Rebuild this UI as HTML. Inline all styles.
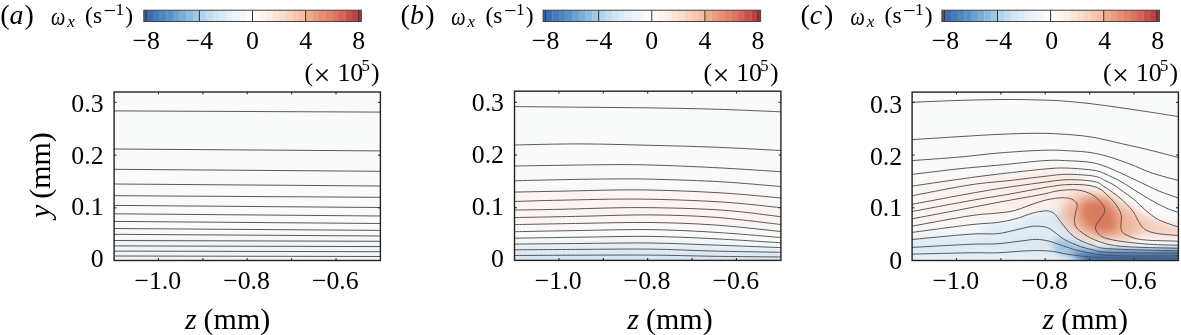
<!DOCTYPE html>
<html><head><meta charset="utf-8"><style>
html,body{margin:0;padding:0;background:#fff;width:1181px;height:335px;overflow:hidden}
svg{display:block;will-change:transform}
text{font-family:"Liberation Serif", serif;fill:#000}
</style></head><body>
<svg width="1181" height="335" viewBox="0 0 1181 335">
<defs>
<clipPath id="ca"><rect x="114.1" y="92.0" width="266.30" height="168.50"/></clipPath><clipPath id="cb"><rect x="514.5" y="91.2" width="266.40" height="169.20"/></clipPath><clipPath id="cc"><rect x="912.1" y="92.1" width="266.30" height="168.40"/></clipPath>
<linearGradient id="pinkc" x1="0" y1="0" x2="1" y2="0"><stop offset="0" stop-color="#fbf6f4"/><stop offset="0.55" stop-color="#fbefe9"/><stop offset="1" stop-color="#fae9e0"/></linearGradient>
<filter id="b5" x="-50%" y="-50%" width="200%" height="200%"><feGaussianBlur stdDeviation="5"/></filter>
<filter id="b3" x="-50%" y="-50%" width="200%" height="200%"><feGaussianBlur stdDeviation="3"/></filter>
<filter id="b4" x="-50%" y="-50%" width="200%" height="200%"><feGaussianBlur stdDeviation="4"/></filter>
<filter id="b6" x="-50%" y="-50%" width="200%" height="200%"><feGaussianBlur stdDeviation="6"/></filter>
</defs>
<g clip-path="url(#ca)"><rect x="114.1" y="92.0" width="266.30" height="168.50" fill="#f9fbfa"/>
<rect x="110" y="238" width="275" height="30" fill="#f2f5f8" filter="url(#b4)"/>
</g>
<g clip-path="url(#cb)"><rect x="514.5" y="91.2" width="266.40" height="169.20" fill="#f9fbfa"/>
<path d="M505,192 C560,186 640,185 720,190 C760,194 790,200 790,205 L790,238 C760,232 720,226 650,225 C600,225 540,227 505,228 Z" fill="#fcf4f0" filter="url(#b5)"/>
<path d="M505,244 C560,241 650,240 720,243 C760,246 790,248 790,249 L790,265 L505,265 Z" fill="#e4eef7" filter="url(#b4)"/>
<path d="M505,251 C560,249 650,249 720,252 L790,254 L790,265 L505,265 Z" fill="#d9e7f3" filter="url(#b3)"/>
</g>
<g clip-path="url(#cc)"><rect x="912.1" y="92.1" width="266.30" height="168.40" fill="#f9fbfa"/>
<path d="M905.0,186.0C914.2,178.0 944.2,182.0 960.0,180.0C975.8,178.0 986.7,175.8 1000.0,174.0C1013.3,172.2 1028.3,169.7 1040.0,169.0C1051.7,168.3 1062.5,168.5 1070.0,170.0C1077.5,171.5 1083.3,173.3 1085.0,178.0C1086.7,182.7 1084.2,193.5 1080.0,198.0C1075.8,202.5 1068.3,202.7 1060.0,205.0C1051.7,207.3 1040.0,210.0 1030.0,212.0C1020.0,214.0 1011.7,215.3 1000.0,217.0C988.3,218.7 975.8,220.2 960.0,222.0C944.2,223.8 914.2,234.0 905.0,228.0C895.8,222.0 895.8,194.0 905.0,186.0Z" fill="url(#pinkc)" filter="url(#b6)"/>
<path d="M905.0,238.0C914.2,233.3 944.2,235.0 960.0,234.0C975.8,233.0 988.3,233.5 1000.0,232.0C1011.7,230.5 1021.7,226.5 1030.0,225.0C1038.3,223.5 1044.2,221.5 1050.0,223.0C1055.8,224.5 1060.0,229.5 1065.0,234.0C1070.0,238.5 1079.2,245.3 1080.0,250.0C1080.8,254.7 1099.2,260.0 1070.0,262.0C1040.8,264.0 932.5,266.0 905.0,262.0C877.5,258.0 895.8,242.7 905.0,238.0Z" fill="#e5eef6" filter="url(#b5)"/>
<path d="M905.0,244.0C914.2,242.3 944.2,241.8 960.0,241.0C975.8,240.2 988.3,240.2 1000.0,239.0C1011.7,237.8 1021.7,234.8 1030.0,234.0C1038.3,233.2 1043.7,232.5 1050.0,234.0C1056.3,235.5 1062.2,240.0 1068.0,243.0C1073.8,246.0 1086.3,250.2 1085.0,252.0C1083.7,253.8 1074.2,254.3 1060.0,254.0C1045.8,253.7 1025.8,250.5 1000.0,250.0C974.2,249.5 920.8,252.0 905.0,251.0C889.2,250.0 895.8,245.7 905.0,244.0Z" fill="#dae8f3" filter="url(#b4)"/>
<path d="M985.0,226.0C990.0,223.8 1006.2,224.0 1015.0,222.0C1023.8,220.0 1031.3,215.8 1038.0,214.0C1044.7,212.2 1050.5,211.0 1055.0,211.0C1059.5,211.0 1062.5,212.2 1065.0,214.0C1067.5,215.8 1068.3,219.3 1070.0,222.0C1071.7,224.7 1072.7,227.5 1075.0,230.0C1077.3,232.5 1080.8,234.8 1084.0,237.0C1087.2,239.2 1094.7,241.3 1094.0,243.0C1093.3,244.7 1084.8,247.3 1080.0,247.0C1075.2,246.7 1069.0,243.0 1065.0,241.0C1061.0,239.0 1059.0,236.8 1056.0,235.0C1053.0,233.2 1050.3,231.0 1047.0,230.0C1043.7,229.0 1041.3,228.5 1036.0,229.0C1030.7,229.5 1023.5,232.0 1015.0,233.0C1006.5,234.0 990.0,236.2 985.0,235.0C980.0,233.8 980.0,228.2 985.0,226.0Z" fill="#dce9f4" filter="url(#b4)"/>
<path d="M1056.0,239.0C1058.0,237.3 1062.7,239.3 1066.0,240.0C1069.3,240.7 1072.3,241.9 1076.0,243.0C1079.7,244.1 1082.3,245.7 1088.0,246.5C1093.7,247.3 1099.7,247.6 1110.0,248.0C1120.3,248.4 1136.7,248.6 1150.0,248.8C1163.3,249.0 1183.3,246.5 1190.0,249.0C1196.7,251.5 1206.3,261.5 1190.0,264.0C1173.7,266.5 1111.3,264.8 1092.0,264.0C1072.7,263.2 1079.0,260.5 1074.0,259.0C1069.0,257.5 1065.3,256.5 1062.0,255.0C1058.7,253.5 1055.0,252.7 1054.0,250.0C1053.0,247.3 1054.0,240.7 1056.0,239.0Z" fill="#9fc3e2" filter="url(#b3)"/>
<path d="M1072.0,253.5C1073.0,252.4 1081.7,252.8 1088.0,252.5C1094.3,252.2 1099.7,251.7 1110.0,251.5C1120.3,251.3 1136.7,251.5 1150.0,251.5C1163.3,251.5 1183.3,249.4 1190.0,251.5C1196.7,253.6 1205.3,261.9 1190.0,264.0C1174.7,266.1 1116.0,264.8 1098.0,264.0C1080.0,263.2 1086.3,260.8 1082.0,259.0C1077.7,257.2 1071.0,254.6 1072.0,253.5Z" fill="#3a6fb5" filter="url(#b3)"/>
<path d="M1120.0,208.0C1124.2,205.8 1133.3,209.7 1140.0,212.0C1146.7,214.3 1151.7,219.3 1160.0,222.0C1168.3,224.7 1185.0,225.7 1190.0,228.0C1195.0,230.3 1196.7,234.8 1190.0,236.0C1183.3,237.2 1160.8,235.5 1150.0,235.0C1139.2,234.5 1130.8,234.7 1125.0,233.0C1119.2,231.3 1115.8,229.2 1115.0,225.0C1114.2,220.8 1115.8,210.2 1120.0,208.0Z" fill="#f5ccb8" filter="url(#b5)"/>
<path d="M1072.0,198.0C1075.7,196.3 1081.3,193.5 1087.0,193.0C1092.7,192.5 1099.8,192.7 1106.0,195.0C1112.2,197.3 1119.2,202.5 1124.0,207.0C1128.8,211.5 1133.0,217.2 1135.0,222.0C1137.0,226.8 1139.3,233.2 1136.0,236.0C1132.7,238.8 1122.3,238.7 1115.0,239.0C1107.7,239.3 1098.7,239.2 1092.0,238.0C1085.3,236.8 1079.7,234.7 1075.0,232.0C1070.3,229.3 1066.3,225.5 1064.0,222.0C1061.7,218.5 1060.8,214.2 1061.0,211.0C1061.2,207.8 1063.2,205.2 1065.0,203.0C1066.8,200.8 1068.3,199.7 1072.0,198.0Z" fill="#efb398" filter="url(#b6)"/>
<path d="M1083.0,203.0C1085.3,201.2 1090.2,199.2 1094.0,199.0C1097.8,198.8 1102.5,199.8 1106.0,202.0C1109.5,204.2 1113.0,208.3 1115.0,212.0C1117.0,215.7 1118.3,220.7 1118.0,224.0C1117.7,227.3 1115.8,230.5 1113.0,232.0C1110.2,233.5 1105.0,233.7 1101.0,233.0C1097.0,232.3 1092.2,230.3 1089.0,228.0C1085.8,225.7 1083.5,222.0 1082.0,219.0C1080.5,216.0 1079.8,212.7 1080.0,210.0C1080.2,207.3 1080.7,204.8 1083.0,203.0Z" fill="#d97a5b" filter="url(#b5)"/>
</g>
<path d="M114.10,110.90L380.40,112.10 M114.10,149.00L380.40,150.90 M114.10,169.30L380.40,171.30 M114.10,184.00L380.40,186.00 M114.10,195.70L380.40,197.30 M114.10,205.40L380.40,207.50 M114.10,213.80L380.40,216.00 M114.10,221.40L380.40,223.50 M114.10,228.50L380.40,230.40 M114.10,234.30L380.40,236.00 M114.10,240.50L380.40,241.30 M114.10,245.90L380.40,246.60 M114.10,251.10L380.40,251.70 M114.10,256.00L380.40,256.50" fill="none" stroke="#505050" stroke-width="0.95" stroke-linejoin="round"/>
<path d="M514.50,106.60C525.42,106.70 557.42,106.98 580.00,107.20C602.58,107.42 627.50,107.57 650.00,107.90C672.50,108.23 693.18,108.55 715.00,109.20C736.82,109.85 769.92,111.37 780.90,111.80 M514.50,145.00C525.42,144.82 557.42,143.85 580.00,143.90C602.58,143.95 627.50,144.75 650.00,145.30C672.50,145.85 693.18,146.33 715.00,147.20C736.82,148.07 769.92,149.95 780.90,150.50 M514.50,166.00C522.08,165.88 542.42,165.53 560.00,165.30C577.58,165.07 603.33,164.60 620.00,164.60C636.67,164.60 643.33,164.75 660.00,165.30C676.67,165.85 699.85,166.83 720.00,167.90C740.15,168.97 770.75,171.07 780.90,171.70 M514.50,180.80C522.08,180.62 542.42,180.02 560.00,179.70C577.58,179.38 603.33,178.95 620.00,178.90C636.67,178.85 643.33,178.93 660.00,179.40C676.67,179.87 699.85,180.52 720.00,181.70C740.15,182.88 770.75,185.70 780.90,186.50 M514.50,192.10C522.08,191.95 539.08,191.57 560.00,191.20C580.92,190.83 613.33,189.63 640.00,189.90C666.67,190.17 696.52,191.45 720.00,192.80C743.48,194.15 770.75,197.13 780.90,198.00 M514.50,201.50C522.08,201.28 539.08,200.60 560.00,200.20C580.92,199.80 613.33,198.82 640.00,199.10C666.67,199.38 696.52,200.47 720.00,201.90C743.48,203.33 770.75,206.73 780.90,207.70 M514.50,210.10C522.08,209.97 539.08,209.72 560.00,209.30C580.92,208.88 613.33,207.48 640.00,207.60C666.67,207.72 696.52,208.48 720.00,210.00C743.48,211.52 770.75,215.58 780.90,216.70 M514.50,217.60C525.42,217.38 557.42,216.75 580.00,216.30C602.58,215.85 627.50,214.73 650.00,214.90C672.50,215.07 693.18,215.70 715.00,217.30C736.82,218.90 769.92,223.30 780.90,224.50 M514.50,224.60C525.42,224.40 557.42,223.75 580.00,223.40C602.58,223.05 627.50,222.23 650.00,222.50C672.50,222.77 693.18,223.50 715.00,225.00C736.82,226.50 769.92,230.42 780.90,231.50 M514.50,231.70C525.42,231.50 557.42,230.85 580.00,230.50C602.58,230.15 627.50,229.30 650.00,229.60C672.50,229.90 693.18,230.98 715.00,232.30C736.82,233.62 769.92,236.63 780.90,237.50 M514.50,238.20C525.42,238.03 557.42,237.50 580.00,237.20C602.58,236.90 627.50,236.13 650.00,236.40C672.50,236.67 693.18,237.73 715.00,238.80C736.82,239.87 769.92,242.13 780.90,242.80 M514.50,244.10C525.42,244.00 557.42,243.68 580.00,243.50C602.58,243.32 627.50,242.73 650.00,243.00C672.50,243.27 693.18,244.33 715.00,245.10C736.82,245.87 769.92,247.18 780.90,247.60 M514.50,249.80C525.42,249.73 557.42,249.52 580.00,249.40C602.58,249.28 627.50,248.82 650.00,249.10C672.50,249.38 693.18,250.57 715.00,251.10C736.82,251.63 769.92,252.10 780.90,252.30 M514.50,255.50C525.42,255.45 557.42,255.27 580.00,255.20C602.58,255.13 627.50,254.92 650.00,255.10C672.50,255.28 693.18,255.98 715.00,256.30C736.82,256.62 769.92,256.88 780.90,257.00" fill="none" stroke="#505050" stroke-width="0.95" stroke-linejoin="round"/>
<path d="M912.10,102.30C920.08,101.98 944.52,100.87 960.00,100.40C975.48,99.93 992.50,99.58 1005.00,99.50C1017.50,99.42 1025.83,99.68 1035.00,99.90C1044.17,100.12 1050.83,100.18 1060.00,100.80C1069.17,101.42 1079.83,102.43 1090.00,103.60C1100.17,104.77 1110.67,106.33 1121.00,107.80C1131.33,109.27 1142.43,110.93 1152.00,112.40C1161.57,113.87 1174.00,115.90 1178.40,116.60 M912.10,139.60C920.08,139.10 945.35,137.48 960.00,136.60C974.65,135.72 987.50,134.85 1000.00,134.30C1012.50,133.75 1025.00,133.35 1035.00,133.30C1045.00,133.25 1050.72,133.40 1060.00,134.00C1069.28,134.60 1080.45,135.30 1090.70,136.90C1100.95,138.50 1111.25,141.30 1121.50,143.60C1131.75,145.90 1142.72,148.37 1152.20,150.70C1161.68,153.03 1174.03,156.45 1178.40,157.60 M912.10,160.60C920.08,160.00 945.35,158.28 960.00,157.00C974.65,155.72 985.83,154.03 1000.00,152.90C1014.17,151.77 1033.00,150.52 1045.00,150.20C1057.00,149.88 1064.50,150.62 1072.00,151.00C1079.50,151.38 1084.00,151.58 1090.00,152.50C1096.00,153.42 1101.33,154.57 1108.00,156.50C1114.67,158.43 1122.67,161.35 1130.00,164.10C1137.33,166.85 1143.93,170.27 1152.00,173.00C1160.07,175.73 1174.00,179.25 1178.40,180.50 M912.10,174.40C920.08,173.45 945.35,170.27 960.00,168.70C974.65,167.13 985.83,166.35 1000.00,165.00C1014.17,163.65 1033.83,161.32 1045.00,160.60C1056.17,159.88 1059.50,160.42 1067.00,160.70C1074.50,160.98 1083.67,161.37 1090.00,162.30C1096.33,163.23 1099.17,164.18 1105.00,166.30C1110.83,168.42 1118.17,171.88 1125.00,175.00C1131.83,178.12 1140.17,182.25 1146.00,185.00C1151.83,187.75 1154.60,189.33 1160.00,191.50C1165.40,193.67 1175.33,196.92 1178.40,198.00 M912.10,186.10C920.08,184.93 945.35,181.13 960.00,179.10C974.65,177.07 985.83,175.58 1000.00,173.90C1014.17,172.22 1033.83,169.97 1045.00,169.00C1056.17,168.03 1058.83,167.88 1067.00,168.10C1075.17,168.32 1087.67,169.33 1094.00,170.30C1100.33,171.27 1100.67,172.12 1105.00,173.90C1109.33,175.68 1115.08,178.32 1120.00,181.00C1124.92,183.68 1129.50,186.92 1134.50,190.00C1139.50,193.08 1144.92,196.58 1150.00,199.50C1155.08,202.42 1160.27,205.33 1165.00,207.50C1169.73,209.67 1176.17,211.67 1178.40,212.50 M912.10,195.70C921.75,193.90 953.68,187.43 970.00,184.90C986.32,182.37 997.50,181.93 1010.00,180.50C1022.50,179.07 1035.50,177.33 1045.00,176.30C1054.50,175.27 1058.83,174.33 1067.00,174.30C1075.17,174.27 1087.67,175.07 1094.00,176.10C1100.33,177.13 1101.67,179.02 1105.00,180.50C1108.33,181.98 1111.33,183.42 1114.00,185.00C1116.67,186.58 1117.67,187.58 1121.00,190.00C1124.33,192.42 1129.95,196.17 1134.00,199.50C1138.05,202.83 1141.18,206.62 1145.30,210.00C1149.42,213.38 1153.18,216.97 1158.70,219.80C1164.22,222.63 1175.12,225.80 1178.40,227.00 M912.10,204.30C921.75,202.50 954.85,196.22 970.00,193.50C985.15,190.78 991.33,189.78 1003.00,188.00C1014.67,186.22 1029.33,184.18 1040.00,182.80C1050.67,181.42 1058.00,179.92 1067.00,179.70C1076.00,179.48 1087.67,180.25 1094.00,181.50C1100.33,182.75 1100.67,184.45 1105.00,187.20C1109.33,189.95 1115.52,194.20 1120.00,198.00C1124.48,201.80 1129.18,206.80 1131.90,210.00C1134.62,213.20 1134.82,214.67 1136.30,217.20C1137.78,219.73 1139.00,222.97 1140.80,225.20C1142.60,227.43 1144.12,229.18 1147.10,230.60C1150.08,232.02 1153.48,232.88 1158.70,233.70C1163.92,234.52 1175.12,235.20 1178.40,235.50 M912.10,211.50C921.75,209.70 953.68,203.62 970.00,200.70C986.32,197.78 997.50,196.20 1010.00,194.00C1022.50,191.80 1035.50,189.07 1045.00,187.50C1054.50,185.93 1059.83,184.97 1067.00,184.60C1074.17,184.23 1082.50,184.57 1088.00,185.30C1093.50,186.03 1096.83,187.38 1100.00,189.00C1103.17,190.62 1104.67,192.83 1107.00,195.00C1109.33,197.17 1111.95,199.50 1114.00,202.00C1116.05,204.50 1118.07,207.67 1119.30,210.00C1120.53,212.33 1121.12,213.77 1121.40,216.00C1121.68,218.23 1121.03,221.12 1121.00,223.40C1120.97,225.68 1120.53,227.90 1121.20,229.70C1121.87,231.50 1122.48,232.72 1125.00,234.20C1127.52,235.68 1132.17,237.58 1136.30,238.60C1140.43,239.62 1142.78,239.87 1149.80,240.30C1156.82,240.73 1173.63,241.05 1178.40,241.20 M912.10,218.80C919.87,217.33 944.05,212.80 958.70,210.00C973.35,207.20 986.45,204.53 1000.00,202.00C1013.55,199.47 1030.33,196.67 1040.00,194.80C1049.67,192.93 1052.00,191.62 1058.00,190.80C1064.00,189.98 1070.83,189.52 1076.00,189.90C1081.17,190.28 1085.33,191.53 1089.00,193.10C1092.67,194.67 1095.57,197.07 1098.00,199.30C1100.43,201.53 1102.52,204.38 1103.60,206.50C1104.68,208.62 1105.10,209.83 1104.50,212.00C1103.90,214.17 1101.50,217.07 1100.00,219.50C1098.50,221.93 1095.95,224.45 1095.50,226.60C1095.05,228.75 1095.80,230.53 1097.30,232.40C1098.80,234.27 1100.23,236.27 1104.50,237.80C1108.77,239.33 1115.35,240.52 1122.90,241.60C1130.45,242.68 1140.55,243.70 1149.80,244.30C1159.05,244.90 1173.63,245.05 1178.40,245.20 M912.10,226.10C921.75,224.38 955.85,217.97 970.00,215.80C984.15,213.63 989.50,214.00 997.00,213.10C1004.50,212.20 1007.83,212.32 1015.00,210.40C1022.17,208.48 1032.83,203.67 1040.00,201.60C1047.17,199.53 1053.08,198.53 1058.00,198.00C1062.92,197.47 1066.53,197.73 1069.50,198.40C1072.47,199.07 1074.52,200.65 1075.80,202.00C1077.08,203.35 1077.25,204.67 1077.20,206.50C1077.15,208.33 1075.95,210.48 1075.50,213.00C1075.05,215.52 1074.30,219.12 1074.50,221.60C1074.70,224.08 1075.28,225.95 1076.70,227.90C1078.12,229.85 1080.17,231.38 1083.00,233.30C1085.83,235.22 1089.20,237.50 1093.70,239.40C1098.20,241.30 1103.63,243.43 1110.00,244.70C1116.37,245.97 1120.50,246.40 1131.90,247.00C1143.30,247.60 1170.65,248.08 1178.40,248.30 M912.10,232.40C921.75,231.13 955.85,226.45 970.00,224.80C984.15,223.15 989.50,223.47 997.00,222.50C1004.50,221.53 1009.05,220.57 1015.00,219.00C1020.95,217.43 1027.70,214.45 1032.70,213.10C1037.70,211.75 1041.95,211.12 1045.00,210.90C1048.05,210.68 1049.30,211.20 1051.00,211.80C1052.70,212.40 1053.60,212.87 1055.20,214.50C1056.80,216.13 1058.65,219.07 1060.60,221.60C1062.55,224.13 1065.00,227.47 1066.90,229.70C1068.80,231.93 1069.82,233.23 1072.00,235.00C1074.18,236.77 1076.38,238.53 1080.00,240.30C1083.62,242.07 1088.70,244.18 1093.70,245.60C1098.70,247.02 1095.88,247.90 1110.00,248.80C1124.12,249.70 1167.00,250.63 1178.40,251.00 M912.10,239.50C921.75,238.62 955.85,235.17 970.00,234.20C984.15,233.23 989.50,234.38 997.00,233.70C1004.50,233.02 1009.80,231.22 1015.00,230.10C1020.20,228.98 1024.67,227.67 1028.20,227.00C1031.73,226.33 1033.03,226.02 1036.20,226.10C1039.37,226.18 1043.88,226.30 1047.20,227.50C1050.52,228.70 1053.12,231.22 1056.10,233.30C1059.08,235.38 1061.07,237.80 1065.10,240.00C1069.13,242.20 1075.53,244.82 1080.30,246.50C1085.07,248.18 1088.75,249.12 1093.70,250.10C1098.65,251.08 1095.88,251.88 1110.00,252.40C1124.12,252.92 1167.00,253.07 1178.40,253.20 M912.10,247.40C921.75,246.88 955.85,244.90 970.00,244.30C984.15,243.70 988.80,244.32 997.00,243.80C1005.20,243.28 1012.67,241.93 1019.20,241.20C1025.73,240.47 1031.23,239.40 1036.20,239.40C1041.17,239.40 1044.63,240.17 1049.00,241.20C1053.37,242.23 1057.18,243.97 1062.40,245.60C1067.62,247.23 1072.37,249.35 1080.30,251.00C1088.23,252.65 1093.65,254.68 1110.00,255.50C1126.35,256.32 1167.00,255.83 1178.40,255.90 M912.10,254.10C921.75,253.88 955.85,253.02 970.00,252.80C984.15,252.58 988.05,253.10 997.00,252.80C1005.95,252.50 1016.53,251.37 1023.70,251.00C1030.87,250.63 1035.05,250.52 1040.00,250.60C1044.95,250.68 1048.92,250.92 1053.40,251.50C1057.88,252.08 1061.67,253.28 1066.90,254.10C1072.13,254.92 1077.62,255.80 1084.80,256.40C1091.98,257.00 1094.40,257.40 1110.00,257.70C1125.60,258.00 1167.00,258.12 1178.40,258.20" fill="none" stroke="#505050" stroke-width="0.95" stroke-linejoin="round"/>
<line x1="158.48" y1="260.5" x2="158.48" y2="258.2" stroke="#222" stroke-width="1.1"/>
<line x1="158.48" y1="92.0" x2="158.48" y2="94.3" stroke="#222" stroke-width="1.1"/>
<line x1="202.87" y1="260.5" x2="202.87" y2="258.2" stroke="#222" stroke-width="1.1"/>
<line x1="202.87" y1="92.0" x2="202.87" y2="94.3" stroke="#222" stroke-width="1.1"/>
<line x1="247.25" y1="260.5" x2="247.25" y2="258.2" stroke="#222" stroke-width="1.1"/>
<line x1="247.25" y1="92.0" x2="247.25" y2="94.3" stroke="#222" stroke-width="1.1"/>
<line x1="291.63" y1="260.5" x2="291.63" y2="258.2" stroke="#222" stroke-width="1.1"/>
<line x1="291.63" y1="92.0" x2="291.63" y2="94.3" stroke="#222" stroke-width="1.1"/>
<line x1="336.02" y1="260.5" x2="336.02" y2="258.2" stroke="#222" stroke-width="1.1"/>
<line x1="336.02" y1="92.0" x2="336.02" y2="94.3" stroke="#222" stroke-width="1.1"/>
<line x1="114.1" y1="207.80" x2="116.39999999999999" y2="207.80" stroke="#222" stroke-width="1.1"/>
<line x1="380.4" y1="207.80" x2="378.09999999999997" y2="207.80" stroke="#222" stroke-width="1.1"/>
<line x1="114.1" y1="155.10" x2="116.39999999999999" y2="155.10" stroke="#222" stroke-width="1.1"/>
<line x1="380.4" y1="155.10" x2="378.09999999999997" y2="155.10" stroke="#222" stroke-width="1.1"/>
<line x1="114.1" y1="102.40" x2="116.39999999999999" y2="102.40" stroke="#222" stroke-width="1.1"/>
<line x1="380.4" y1="102.40" x2="378.09999999999997" y2="102.40" stroke="#222" stroke-width="1.1"/>
<rect x="114.1" y="92.0" width="266.30" height="168.50" fill="none" stroke="#222" stroke-width="1.4"/>
<text x="157.78" y="289.0" font-size="25.8" text-anchor="middle">−1.0</text>
<text x="246.55" y="289.0" font-size="25.8" text-anchor="middle">−0.8</text>
<text x="335.32" y="289.0" font-size="25.8" text-anchor="middle">−0.6</text>
<text x="103.60" y="111.50" font-size="25.8" text-anchor="end">0.3</text>
<text x="103.60" y="163.50" font-size="25.8" text-anchor="end">0.2</text>
<text x="103.60" y="215.30" font-size="25.8" text-anchor="end">0.1</text>
<text x="103.60" y="267.40" font-size="25.8" text-anchor="end">0</text>
<text x="184.90" y="328.5" font-size="30" font-style="italic">z</text>
<text x="203.60" y="328.5" font-size="30">(mm)</text>
<text transform="translate(49.6,218.0) rotate(-90)" font-size="30" font-style="italic">y</text>
<text transform="translate(49.6,198.8) rotate(-90)" font-size="30">(mm)</text>
<line x1="558.90" y1="260.4" x2="558.90" y2="258.09999999999997" stroke="#222" stroke-width="1.1"/>
<line x1="558.90" y1="91.2" x2="558.90" y2="93.5" stroke="#222" stroke-width="1.1"/>
<line x1="603.30" y1="260.4" x2="603.30" y2="258.09999999999997" stroke="#222" stroke-width="1.1"/>
<line x1="603.30" y1="91.2" x2="603.30" y2="93.5" stroke="#222" stroke-width="1.1"/>
<line x1="647.70" y1="260.4" x2="647.70" y2="258.09999999999997" stroke="#222" stroke-width="1.1"/>
<line x1="647.70" y1="91.2" x2="647.70" y2="93.5" stroke="#222" stroke-width="1.1"/>
<line x1="692.10" y1="260.4" x2="692.10" y2="258.09999999999997" stroke="#222" stroke-width="1.1"/>
<line x1="692.10" y1="91.2" x2="692.10" y2="93.5" stroke="#222" stroke-width="1.1"/>
<line x1="736.50" y1="260.4" x2="736.50" y2="258.09999999999997" stroke="#222" stroke-width="1.1"/>
<line x1="736.50" y1="91.2" x2="736.50" y2="93.5" stroke="#222" stroke-width="1.1"/>
<line x1="514.5" y1="207.70" x2="516.8" y2="207.70" stroke="#222" stroke-width="1.1"/>
<line x1="780.9" y1="207.70" x2="778.6" y2="207.70" stroke="#222" stroke-width="1.1"/>
<line x1="514.5" y1="155.00" x2="516.8" y2="155.00" stroke="#222" stroke-width="1.1"/>
<line x1="780.9" y1="155.00" x2="778.6" y2="155.00" stroke="#222" stroke-width="1.1"/>
<line x1="514.5" y1="102.30" x2="516.8" y2="102.30" stroke="#222" stroke-width="1.1"/>
<line x1="780.9" y1="102.30" x2="778.6" y2="102.30" stroke="#222" stroke-width="1.1"/>
<rect x="514.5" y="91.2" width="266.40" height="169.20" fill="none" stroke="#222" stroke-width="1.4"/>
<text x="558.20" y="289.0" font-size="25.8" text-anchor="middle">−1.0</text>
<text x="647.00" y="289.0" font-size="25.8" text-anchor="middle">−0.8</text>
<text x="735.80" y="289.0" font-size="25.8" text-anchor="middle">−0.6</text>
<text x="504.00" y="111.20" font-size="25.8" text-anchor="end">0.3</text>
<text x="504.00" y="163.20" font-size="25.8" text-anchor="end">0.2</text>
<text x="504.00" y="215.00" font-size="25.8" text-anchor="end">0.1</text>
<text x="504.00" y="267.10" font-size="25.8" text-anchor="end">0</text>
<text x="627.30" y="328.5" font-size="30" font-style="italic">z</text>
<text x="646.00" y="328.5" font-size="30">(mm)</text>
<line x1="956.48" y1="260.5" x2="956.48" y2="258.2" stroke="#222" stroke-width="1.1"/>
<line x1="956.48" y1="92.1" x2="956.48" y2="94.39999999999999" stroke="#222" stroke-width="1.1"/>
<line x1="1000.87" y1="260.5" x2="1000.87" y2="258.2" stroke="#222" stroke-width="1.1"/>
<line x1="1000.87" y1="92.1" x2="1000.87" y2="94.39999999999999" stroke="#222" stroke-width="1.1"/>
<line x1="1045.25" y1="260.5" x2="1045.25" y2="258.2" stroke="#222" stroke-width="1.1"/>
<line x1="1045.25" y1="92.1" x2="1045.25" y2="94.39999999999999" stroke="#222" stroke-width="1.1"/>
<line x1="1089.63" y1="260.5" x2="1089.63" y2="258.2" stroke="#222" stroke-width="1.1"/>
<line x1="1089.63" y1="92.1" x2="1089.63" y2="94.39999999999999" stroke="#222" stroke-width="1.1"/>
<line x1="1134.02" y1="260.5" x2="1134.02" y2="258.2" stroke="#222" stroke-width="1.1"/>
<line x1="1134.02" y1="92.1" x2="1134.02" y2="94.39999999999999" stroke="#222" stroke-width="1.1"/>
<line x1="912.1" y1="207.80" x2="914.4" y2="207.80" stroke="#222" stroke-width="1.1"/>
<line x1="1178.4" y1="207.80" x2="1176.1000000000001" y2="207.80" stroke="#222" stroke-width="1.1"/>
<line x1="912.1" y1="155.10" x2="914.4" y2="155.10" stroke="#222" stroke-width="1.1"/>
<line x1="1178.4" y1="155.10" x2="1176.1000000000001" y2="155.10" stroke="#222" stroke-width="1.1"/>
<line x1="912.1" y1="102.40" x2="914.4" y2="102.40" stroke="#222" stroke-width="1.1"/>
<line x1="1178.4" y1="102.40" x2="1176.1000000000001" y2="102.40" stroke="#222" stroke-width="1.1"/>
<rect x="912.1" y="92.1" width="266.30" height="168.40" fill="none" stroke="#222" stroke-width="1.4"/>
<text x="955.78" y="289.0" font-size="25.8" text-anchor="middle">−1.0</text>
<text x="1044.55" y="289.0" font-size="25.8" text-anchor="middle">−0.8</text>
<text x="1133.32" y="289.0" font-size="25.8" text-anchor="middle">−0.6</text>
<text x="902.20" y="112.60" font-size="25.8" text-anchor="end">0.3</text>
<text x="902.20" y="164.60" font-size="25.8" text-anchor="end">0.2</text>
<text x="902.20" y="216.40" font-size="25.8" text-anchor="end">0.1</text>
<text x="902.20" y="268.50" font-size="25.8" text-anchor="end">0</text>
<text x="1042.60" y="328.5" font-size="30" font-style="italic">z</text>
<text x="1061.30" y="328.5" font-size="30">(mm)</text>
<rect x="143.80" y="10.2" width="2.50" height="11.3" fill="#2f62ad"/>
<rect x="146.30" y="10.2" width="6.94" height="11.3" fill="#3a6db5"/>
<rect x="152.94" y="10.2" width="6.94" height="11.3" fill="#4679bb"/>
<rect x="159.58" y="10.2" width="6.94" height="11.3" fill="#4f86c0"/>
<rect x="166.21" y="10.2" width="6.94" height="11.3" fill="#5a91c6"/>
<rect x="172.85" y="10.2" width="6.94" height="11.3" fill="#68a0ce"/>
<rect x="179.49" y="10.2" width="6.94" height="11.3" fill="#79add5"/>
<rect x="186.12" y="10.2" width="6.94" height="11.3" fill="#8dbadc"/>
<rect x="192.76" y="10.2" width="6.94" height="11.3" fill="#a0c8e3"/>
<rect x="199.40" y="10.2" width="6.94" height="11.3" fill="#b4d4ea"/>
<rect x="206.04" y="10.2" width="6.94" height="11.3" fill="#c3dcee"/>
<rect x="212.68" y="10.2" width="6.94" height="11.3" fill="#d0e4f1"/>
<rect x="219.31" y="10.2" width="6.94" height="11.3" fill="#dbeaf4"/>
<rect x="225.95" y="10.2" width="6.94" height="11.3" fill="#e5eff7"/>
<rect x="232.59" y="10.2" width="6.94" height="11.3" fill="#edf3f9"/>
<rect x="239.23" y="10.2" width="6.94" height="11.3" fill="#f3f7fa"/>
<rect x="245.86" y="10.2" width="6.94" height="11.3" fill="#f9fbfc"/>
<rect x="252.50" y="10.2" width="6.94" height="11.3" fill="#fefaf8"/>
<rect x="259.14" y="10.2" width="6.94" height="11.3" fill="#fdf4ef"/>
<rect x="265.78" y="10.2" width="6.94" height="11.3" fill="#fcede5"/>
<rect x="272.41" y="10.2" width="6.94" height="11.3" fill="#fbe5da"/>
<rect x="279.05" y="10.2" width="6.94" height="11.3" fill="#fadccd"/>
<rect x="285.69" y="10.2" width="6.94" height="11.3" fill="#f8d2c0"/>
<rect x="292.33" y="10.2" width="6.94" height="11.3" fill="#f6c8b2"/>
<rect x="298.96" y="10.2" width="6.94" height="11.3" fill="#f4bda4"/>
<rect x="305.60" y="10.2" width="6.94" height="11.3" fill="#f0aa8b"/>
<rect x="312.24" y="10.2" width="6.94" height="11.3" fill="#eb9c7f"/>
<rect x="318.88" y="10.2" width="6.94" height="11.3" fill="#e78e73"/>
<rect x="325.51" y="10.2" width="6.94" height="11.3" fill="#e38268"/>
<rect x="332.15" y="10.2" width="6.94" height="11.3" fill="#dd7461"/>
<rect x="338.79" y="10.2" width="6.94" height="11.3" fill="#d4635a"/>
<rect x="345.43" y="10.2" width="6.94" height="11.3" fill="#c9504c"/>
<rect x="352.06" y="10.2" width="6.94" height="11.3" fill="#bd3f40"/>
<rect x="358.70" y="10.2" width="2.60" height="11.3" fill="#b3333a"/>
<line x1="146.30" y1="10.2" x2="146.30" y2="21.5" stroke="#333" stroke-width="1"/>
<line x1="199.40" y1="10.2" x2="199.40" y2="21.5" stroke="#333" stroke-width="1"/>
<line x1="252.50" y1="10.2" x2="252.50" y2="21.5" stroke="#333" stroke-width="1"/>
<line x1="305.60" y1="10.2" x2="305.60" y2="21.5" stroke="#333" stroke-width="1"/>
<line x1="358.70" y1="10.2" x2="358.70" y2="21.5" stroke="#333" stroke-width="1"/>
<rect x="143.80" y="10.2" width="217.50" height="11.3" fill="none" stroke="#444" stroke-width="1"/>
<text x="146.30" y="49" font-size="25.8" text-anchor="middle">−8</text>
<text x="199.40" y="49" font-size="25.8" text-anchor="middle">−4</text>
<text x="252.50" y="49" font-size="25.8" text-anchor="middle">0</text>
<text x="305.60" y="49" font-size="25.8" text-anchor="middle">4</text>
<text x="358.70" y="49" font-size="25.8" text-anchor="middle">8</text>
<rect x="543.10" y="10.2" width="2.50" height="11.3" fill="#2f62ad"/>
<rect x="545.60" y="10.2" width="6.94" height="11.3" fill="#3a6db5"/>
<rect x="552.24" y="10.2" width="6.94" height="11.3" fill="#4679bb"/>
<rect x="558.88" y="10.2" width="6.94" height="11.3" fill="#4f86c0"/>
<rect x="565.51" y="10.2" width="6.94" height="11.3" fill="#5a91c6"/>
<rect x="572.15" y="10.2" width="6.94" height="11.3" fill="#68a0ce"/>
<rect x="578.79" y="10.2" width="6.94" height="11.3" fill="#79add5"/>
<rect x="585.43" y="10.2" width="6.94" height="11.3" fill="#8dbadc"/>
<rect x="592.06" y="10.2" width="6.94" height="11.3" fill="#a0c8e3"/>
<rect x="598.70" y="10.2" width="6.94" height="11.3" fill="#b4d4ea"/>
<rect x="605.34" y="10.2" width="6.94" height="11.3" fill="#c3dcee"/>
<rect x="611.98" y="10.2" width="6.94" height="11.3" fill="#d0e4f1"/>
<rect x="618.61" y="10.2" width="6.94" height="11.3" fill="#dbeaf4"/>
<rect x="625.25" y="10.2" width="6.94" height="11.3" fill="#e5eff7"/>
<rect x="631.89" y="10.2" width="6.94" height="11.3" fill="#edf3f9"/>
<rect x="638.52" y="10.2" width="6.94" height="11.3" fill="#f3f7fa"/>
<rect x="645.16" y="10.2" width="6.94" height="11.3" fill="#f9fbfc"/>
<rect x="651.80" y="10.2" width="6.94" height="11.3" fill="#fefaf8"/>
<rect x="658.44" y="10.2" width="6.94" height="11.3" fill="#fdf4ef"/>
<rect x="665.08" y="10.2" width="6.94" height="11.3" fill="#fcede5"/>
<rect x="671.71" y="10.2" width="6.94" height="11.3" fill="#fbe5da"/>
<rect x="678.35" y="10.2" width="6.94" height="11.3" fill="#fadccd"/>
<rect x="684.99" y="10.2" width="6.94" height="11.3" fill="#f8d2c0"/>
<rect x="691.62" y="10.2" width="6.94" height="11.3" fill="#f6c8b2"/>
<rect x="698.26" y="10.2" width="6.94" height="11.3" fill="#f4bda4"/>
<rect x="704.90" y="10.2" width="6.94" height="11.3" fill="#f0aa8b"/>
<rect x="711.54" y="10.2" width="6.94" height="11.3" fill="#eb9c7f"/>
<rect x="718.18" y="10.2" width="6.94" height="11.3" fill="#e78e73"/>
<rect x="724.81" y="10.2" width="6.94" height="11.3" fill="#e38268"/>
<rect x="731.45" y="10.2" width="6.94" height="11.3" fill="#dd7461"/>
<rect x="738.09" y="10.2" width="6.94" height="11.3" fill="#d4635a"/>
<rect x="744.73" y="10.2" width="6.94" height="11.3" fill="#c9504c"/>
<rect x="751.36" y="10.2" width="6.94" height="11.3" fill="#bd3f40"/>
<rect x="758.00" y="10.2" width="2.60" height="11.3" fill="#b3333a"/>
<line x1="545.60" y1="10.2" x2="545.60" y2="21.5" stroke="#333" stroke-width="1"/>
<line x1="598.70" y1="10.2" x2="598.70" y2="21.5" stroke="#333" stroke-width="1"/>
<line x1="651.80" y1="10.2" x2="651.80" y2="21.5" stroke="#333" stroke-width="1"/>
<line x1="704.90" y1="10.2" x2="704.90" y2="21.5" stroke="#333" stroke-width="1"/>
<line x1="758.00" y1="10.2" x2="758.00" y2="21.5" stroke="#333" stroke-width="1"/>
<rect x="543.10" y="10.2" width="217.50" height="11.3" fill="none" stroke="#444" stroke-width="1"/>
<text x="545.60" y="49" font-size="25.8" text-anchor="middle">−8</text>
<text x="598.70" y="49" font-size="25.8" text-anchor="middle">−4</text>
<text x="651.80" y="49" font-size="25.8" text-anchor="middle">0</text>
<text x="704.90" y="49" font-size="25.8" text-anchor="middle">4</text>
<text x="758.00" y="49" font-size="25.8" text-anchor="middle">8</text>
<rect x="941.90" y="10.2" width="2.50" height="11.3" fill="#2f62ad"/>
<rect x="944.40" y="10.2" width="6.94" height="11.3" fill="#3a6db5"/>
<rect x="951.04" y="10.2" width="6.94" height="11.3" fill="#4679bb"/>
<rect x="957.68" y="10.2" width="6.94" height="11.3" fill="#4f86c0"/>
<rect x="964.31" y="10.2" width="6.94" height="11.3" fill="#5a91c6"/>
<rect x="970.95" y="10.2" width="6.94" height="11.3" fill="#68a0ce"/>
<rect x="977.59" y="10.2" width="6.94" height="11.3" fill="#79add5"/>
<rect x="984.23" y="10.2" width="6.94" height="11.3" fill="#8dbadc"/>
<rect x="990.86" y="10.2" width="6.94" height="11.3" fill="#a0c8e3"/>
<rect x="997.50" y="10.2" width="6.94" height="11.3" fill="#b4d4ea"/>
<rect x="1004.14" y="10.2" width="6.94" height="11.3" fill="#c3dcee"/>
<rect x="1010.78" y="10.2" width="6.94" height="11.3" fill="#d0e4f1"/>
<rect x="1017.41" y="10.2" width="6.94" height="11.3" fill="#dbeaf4"/>
<rect x="1024.05" y="10.2" width="6.94" height="11.3" fill="#e5eff7"/>
<rect x="1030.69" y="10.2" width="6.94" height="11.3" fill="#edf3f9"/>
<rect x="1037.33" y="10.2" width="6.94" height="11.3" fill="#f3f7fa"/>
<rect x="1043.96" y="10.2" width="6.94" height="11.3" fill="#f9fbfc"/>
<rect x="1050.60" y="10.2" width="6.94" height="11.3" fill="#fefaf8"/>
<rect x="1057.24" y="10.2" width="6.94" height="11.3" fill="#fdf4ef"/>
<rect x="1063.88" y="10.2" width="6.94" height="11.3" fill="#fcede5"/>
<rect x="1070.51" y="10.2" width="6.94" height="11.3" fill="#fbe5da"/>
<rect x="1077.15" y="10.2" width="6.94" height="11.3" fill="#fadccd"/>
<rect x="1083.79" y="10.2" width="6.94" height="11.3" fill="#f8d2c0"/>
<rect x="1090.43" y="10.2" width="6.94" height="11.3" fill="#f6c8b2"/>
<rect x="1097.06" y="10.2" width="6.94" height="11.3" fill="#f4bda4"/>
<rect x="1103.70" y="10.2" width="6.94" height="11.3" fill="#f0aa8b"/>
<rect x="1110.34" y="10.2" width="6.94" height="11.3" fill="#eb9c7f"/>
<rect x="1116.98" y="10.2" width="6.94" height="11.3" fill="#e78e73"/>
<rect x="1123.61" y="10.2" width="6.94" height="11.3" fill="#e38268"/>
<rect x="1130.25" y="10.2" width="6.94" height="11.3" fill="#dd7461"/>
<rect x="1136.89" y="10.2" width="6.94" height="11.3" fill="#d4635a"/>
<rect x="1143.53" y="10.2" width="6.94" height="11.3" fill="#c9504c"/>
<rect x="1150.16" y="10.2" width="6.94" height="11.3" fill="#bd3f40"/>
<rect x="1156.80" y="10.2" width="2.60" height="11.3" fill="#b3333a"/>
<line x1="944.40" y1="10.2" x2="944.40" y2="21.5" stroke="#333" stroke-width="1"/>
<line x1="997.50" y1="10.2" x2="997.50" y2="21.5" stroke="#333" stroke-width="1"/>
<line x1="1050.60" y1="10.2" x2="1050.60" y2="21.5" stroke="#333" stroke-width="1"/>
<line x1="1103.70" y1="10.2" x2="1103.70" y2="21.5" stroke="#333" stroke-width="1"/>
<line x1="1156.80" y1="10.2" x2="1156.80" y2="21.5" stroke="#333" stroke-width="1"/>
<rect x="941.90" y="10.2" width="217.50" height="11.3" fill="none" stroke="#444" stroke-width="1"/>
<text x="945.40" y="49" font-size="25.8" text-anchor="middle">−8</text>
<text x="998.50" y="49" font-size="25.8" text-anchor="middle">−4</text>
<text x="1051.60" y="49" font-size="25.8" text-anchor="middle">0</text>
<text x="1104.70" y="49" font-size="25.8" text-anchor="middle">4</text>
<text x="1157.80" y="49" font-size="25.8" text-anchor="middle">8</text>
<text x="0.20" y="24.2" font-size="28">(<tspan font-style="italic">a</tspan></text>
<text x="24.60" y="24.2" font-size="28">)</text>
<text transform="translate(50.97,24.6) scale(0.83,1)" font-size="24.4" font-style="italic">ω</text>
<text x="67.20" y="27.4" font-size="17" font-style="italic">x</text>
<text x="85.10" y="23.1" font-size="23.5">(s</text>
<text x="103.50" y="17.5" font-size="22.5">−</text>
<text x="115.50" y="14.6" font-size="17.4">1</text>
<text x="125.30" y="23.1" font-size="23.5">)</text>
<text x="304.60" y="80.8" font-size="25.8">(</text>
<text x="313.60" y="84.5" font-size="30">×</text>
<text x="337.40" y="80.8" font-size="25.8">10</text>
<text x="361.50" y="71.4" font-size="16.8">5</text>
<text x="371.10" y="80.8" font-size="25.8">)</text>
<text x="400.60" y="24.2" font-size="28">(<tspan font-style="italic">b</tspan></text>
<text x="425.30" y="24.2" font-size="28">)</text>
<text transform="translate(451.37,24.6) scale(0.83,1)" font-size="24.4" font-style="italic">ω</text>
<text x="467.60" y="27.4" font-size="17" font-style="italic">x</text>
<text x="485.50" y="23.1" font-size="23.5">(s</text>
<text x="503.90" y="17.5" font-size="22.5">−</text>
<text x="515.90" y="14.6" font-size="17.4">1</text>
<text x="525.70" y="23.1" font-size="23.5">)</text>
<text x="703.40" y="80.8" font-size="25.8">(</text>
<text x="712.40" y="84.5" font-size="30">×</text>
<text x="736.20" y="80.8" font-size="25.8">10</text>
<text x="760.30" y="71.4" font-size="16.8">5</text>
<text x="769.90" y="80.8" font-size="25.8">)</text>
<text x="800.40" y="24.2" font-size="28">(<tspan font-style="italic">c</tspan></text>
<text x="824.00" y="24.2" font-size="28">)</text>
<text transform="translate(850.47,24.6) scale(0.83,1)" font-size="24.4" font-style="italic">ω</text>
<text x="866.70" y="27.4" font-size="17" font-style="italic">x</text>
<text x="884.60" y="23.1" font-size="23.5">(s</text>
<text x="903.00" y="17.5" font-size="22.5">−</text>
<text x="915.00" y="14.6" font-size="17.4">1</text>
<text x="924.80" y="23.1" font-size="23.5">)</text>
<text x="1103.10" y="80.8" font-size="25.8">(</text>
<text x="1112.10" y="84.5" font-size="30">×</text>
<text x="1135.90" y="80.8" font-size="25.8">10</text>
<text x="1160.00" y="71.4" font-size="16.8">5</text>
<text x="1169.60" y="80.8" font-size="25.8">)</text>
</svg>
</body></html>
